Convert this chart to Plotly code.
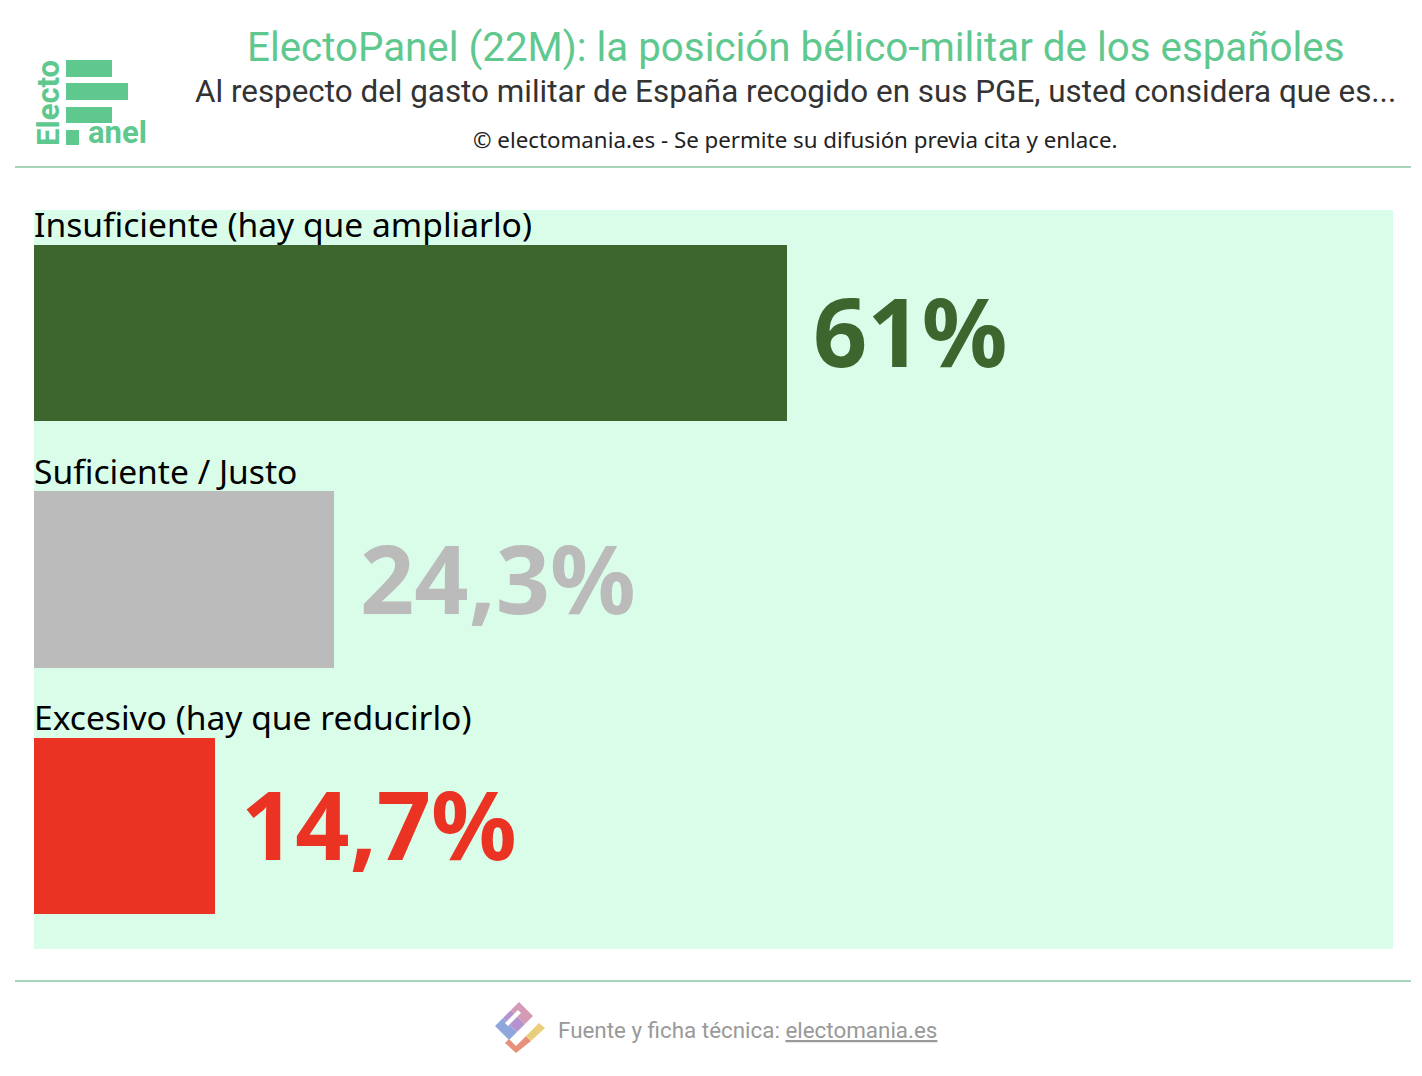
import plotly.graph_objects as go

# respuestas y porcentajes
categorias = ["Insuficiente (hay que ampliarlo)", "Suficiente / Justo", "Excesivo (hay que reducirlo)"]
valores = [61, 24.3, 14.7]
etiquetas = ["61%", "24,3%", "14,7%"]
colores = ["#3d662f", "#bbbbbb", "#ea3323"]

titulo = "ElectoPanel (22M): la posición bélico-militar de los españoles"
subtitulo = "Al respecto del gasto militar de España recogido en sus PGE, usted considera que es..."
copy = "© electomania.es - Se permite su difusión previa cita y enlace."
fuente = "Fuente y ficha técnica: <u>electomania.es</u>"

VERDE = "#5fc88f"

# la pagina tiene 8px de margen, se dibuja todo desplazado
W, H = 1414, 1068
ML, MR, MT, MB = 26, 29, 202, 127
PW, PH = W - ML - MR, H - MT - MB


def px(x):
    return (x - 8 - ML) / PW


def py(y):
    return (H - (y - 8) - MB) / PH


fig = go.Figure()
fig.add_trace(go.Bar(
    x=valores, y=categorias, orientation="h",
    marker=dict(color=colores, line=dict(width=0)),
    width=0.715, hoverinfo="skip",
))

# nombre de la categoria encima de cada barra
for cat in categorias:
    fig.add_annotation(x=0, y=cat, xref="x", yref="y", text=cat, showarrow=False,
                       xanchor="left", yanchor="bottom", yshift=84, xshift=-2,
                       font=dict(family="Noto Sans", size=33.6, color="#000000"))

# porcentaje a la derecha
for v, t, c, cat in zip(valores, etiquetas, colores, categorias):
    fig.add_annotation(x=v, y=cat, xref="x", yref="y", text="<b>" + t + "</b>", showarrow=False,
                       xanchor="left", yanchor="middle", xshift=24, yshift=3,
                       font=dict(family="Noto Sans", size=95, color=c))

# cabecera
fig.add_annotation(x=px(795), y=py(48), xref="paper", yref="paper", text=titulo, showarrow=False,
                   xanchor="center", yanchor="middle",
                   font=dict(family="Roboto", size=40.3, color=VERDE))
fig.add_annotation(x=px(795), y=py(92), xref="paper", yref="paper", text=subtitulo, showarrow=False,
                   xanchor="center", yanchor="middle",
                   font=dict(family="Roboto", size=31.4, color="#333333"))
fig.add_annotation(x=px(795), y=py(139), xref="paper", yref="paper", text=copy, showarrow=False,
                   xanchor="center", yanchor="middle",
                   font=dict(family="Noto Sans", size=22.3, color="#222222"))
fig.add_annotation(x=px(556), y=py(1030), xref="paper", yref="paper", text=fuente, showarrow=False,
                   xanchor="left", yanchor="middle",
                   font=dict(family="Roboto", size=22.4, color="#999999"))

# logo ElectoPanel
fig.add_annotation(x=px(48), y=py(103), xref="paper", yref="paper", text="<b>Electo</b>", showarrow=False,
                   textangle=-90, xanchor="center", yanchor="middle",
                   font=dict(family="Roboto", size=31, color=VERDE))
fig.add_annotation(x=px(86), y=py(133), xref="paper", yref="paper", text="<b>anel</b>", showarrow=False,
                   xanchor="left", yanchor="middle",
                   font=dict(family="Roboto", size=31, color=VERDE))


def rect(x0, y0, x1, y1, color, layer="above"):
    return dict(type="rect", xref="paper", yref="paper", x0=px(x0), x1=px(x1),
                y0=py(y1), y1=py(y0), fillcolor=color, line=dict(width=0), layer=layer)


def poly(pts, color):
    path = "M " + " L ".join(f"{px(x)},{py(y)}" for x, y in pts) + " Z"
    return dict(type="path", xref="paper", yref="paper", path=path,
                fillcolor=color, line=dict(width=0))


shapes = []
for x0, y0, x1, y1 in [(66, 60, 112, 77), (66, 83, 128, 100), (66, 107, 112, 123), (66, 130, 79, 145)]:
    shapes.append(rect(x0, y0, x1, y1, VERDE))

# franja superior y lineas separadoras
shapes.append(rect(0, 0, 1430, 4, "#f3f3f3", "below"))
for yy in [167, 981]:
    shapes.append(dict(type="line", xref="paper", yref="paper", x0=px(15), x1=px(1411),
                       y0=py(yy), y1=py(yy), line=dict(color="#8cc4a2", width=1.5)))

# icono del pie (degradado aproximado)
shapes.append(poly([(495, 1026), (503, 1018), (517, 1032), (509, 1040)], "#8fa6dc"))
shapes.append(poly([(503, 1018), (511, 1010), (525, 1024), (517, 1032)], "#b493cf"))
shapes.append(poly([(511, 1010), (519, 1002), (533, 1016), (525, 1024)], "#d49ab6"))
shapes.append(poly([(505, 1023), (518, 1010), (521, 1013), (508, 1026)], "white"))
shapes.append(poly([(505, 1043), (509, 1039), (516, 1046), (526, 1036), (531, 1041), (516, 1053)], "#e8917a"))
shapes.append(poly([(526, 1036), (539, 1023), (545, 1028), (531, 1041)], "#e9cf7c"))

fig.update_layout(
    width=W, height=H,
    margin=dict(l=ML, r=MR, t=MT, b=MB, pad=0),
    paper_bgcolor="white", plot_bgcolor="#dafdea",
    showlegend=False, shapes=shapes,
    xaxis=dict(range=[0, 110.1], visible=False, fixedrange=True),
    yaxis=dict(range=[2.5, -0.5], visible=False, fixedrange=True),
    bargap=0,
)
fig.write_html("out.html")
